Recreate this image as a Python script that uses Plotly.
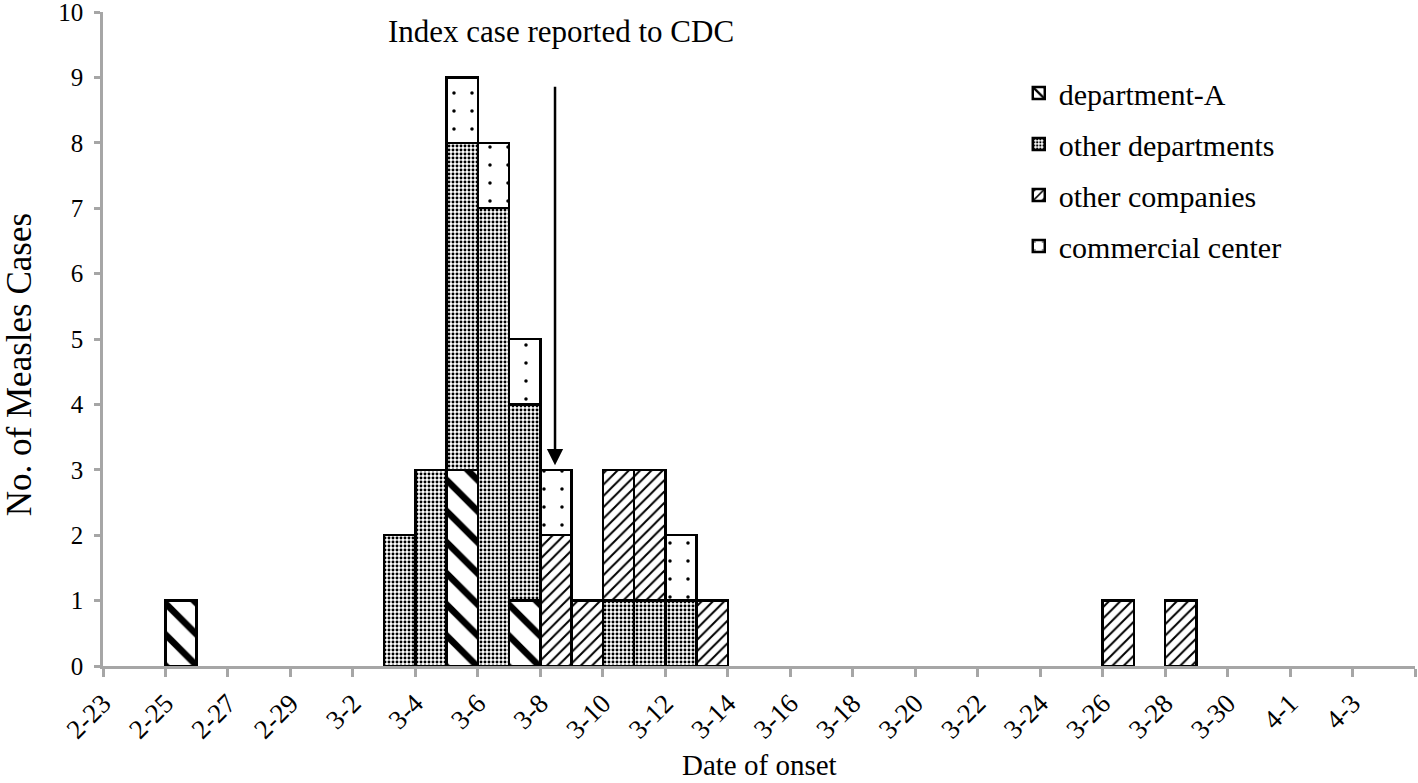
import pandas as pd
import plotly.graph_objects as go

# ---- data ----
onset_dates = ["2-25", "3-3", "3-4", "3-5", "3-6", "3-7", "3-8", "3-9",
               "3-10", "3-11", "3-12", "3-13", "3-26", "3-28"]
department_a = [1, 0, 0, 3, 0, 1, 0, 0, 0, 0, 0, 0, 0, 0]
other_departments = [0, 2, 3, 5, 7, 3, 0, 0, 1, 1, 1, 0, 0, 0]
other_companies = [0, 0, 0, 0, 0, 0, 2, 1, 2, 2, 0, 1, 1, 1]
commercial_center = [0, 0, 0, 1, 1, 1, 1, 0, 0, 0, 1, 0, 0, 0]

tick_labels = ["2-23", "2-25", "2-27", "2-29", "3-2", "3-4", "3-6", "3-8",
               "3-10", "3-12", "3-14", "3-16", "3-18", "3-20", "3-22",
               "3-24", "3-26", "3-28", "3-30", "4-1", "4-3", ""]

YEAR = 2016
start = pd.Timestamp(YEAR, 2, 23)


def day_index(s):
    m, d = s.split("-")
    return (pd.Timestamp(YEAR, int(m), int(d)) - start).days


x_pos = [day_index(s) + 0.5 for s in onset_dates]
tick_vals = [2 * i for i in range(len(tick_labels))]

FONT = "Liberation Serif, Times New Roman, serif"
AXIS_GRAY = "#a6a6a6"


def nz(vals):
    return [v if v else None for v in vals]


series = [
    ("department-A", department_a, dict(shape="\\", size=22, solidity=0.3)),
    ("other departments", other_departments, dict(shape=".", size=4, solidity=0.42)),
    ("other companies", other_companies, dict(shape="/", size=8, solidity=0.25)),
    ("commercial center", commercial_center, dict(shape=".", size=18, solidity=0.03)),
]

fig = go.Figure()
for i, (name, vals, pat) in enumerate(series):
    fig.add_trace(go.Bar(
        x=x_pos, y=nz(vals), width=1, name=name, legendgroup=f"g{i}",
        marker=dict(color="white",
                    line=dict(color="black", width=2.5),
                    pattern=dict(fgcolor="black", bgcolor="white",
                                 fgopacity=1, fillmode="replace", **pat)),
    ))

fig.update_layout(
    barmode="stack",
    width=1418, height=783,
    margin=dict(l=103, r=3, t=12, b=117, autoexpand=False),
    paper_bgcolor="white", plot_bgcolor="white",
    font=dict(family=FONT, size=24, color="black"),
    showlegend=True,
    legend=dict(x=0.698, y=0.916, xanchor="left", yanchor="top",
                bgcolor="rgba(0,0,0,0)", font=dict(size=30, family=FONT),
                tracegroupgap=9, itemwidth=30),
    xaxis=dict(range=[0, 42], tickmode="array", tickvals=tick_vals,
               ticktext=tick_labels, tickangle=-45, showgrid=False,
               showline=True, linecolor=AXIS_GRAY, linewidth=2.5,
               ticks="outside", tickcolor=AXIS_GRAY, ticklen=8, tickwidth=2.5,
               zeroline=False, automargin=False,
               tickfont=dict(size=27, family=FONT)),
    yaxis=dict(range=[0, 10], tickmode="linear", dtick=1, showgrid=False,
               showline=True, linecolor=AXIS_GRAY, linewidth=2.5,
               ticks="outside", tickcolor=AXIS_GRAY, ticklen=6, tickwidth=2.5,
               zeroline=False, automargin=False, ticklabelstandoff=6,
               ticklabeloverflow="allow",
               tickfont=dict(size=25, family=FONT)),
)

# axis titles
fig.add_annotation(text="Date of onset", xref="paper", yref="paper", x=0.5, y=-0.179,
                   xanchor="center", yanchor="bottom", showarrow=False,
                   font=dict(size=29, family=FONT))
fig.add_annotation(text="No. of Measles Cases", xref="paper", yref="paper", x=-0.064, y=0.46,
                   xanchor="center", yanchor="middle", showarrow=False, textangle=-90,
                   font=dict(size=35, family=FONT))

# arrow marking the date the index case was reported
arrow_x = day_index("3-8") + 0.47
fig.add_annotation(x=arrow_x, y=3.07, ax=arrow_x, ay=8.88, xref="x", yref="y",
                   axref="x", ayref="y", text="", showarrow=True,
                   arrowhead=2, arrowsize=1.3, arrowwidth=2.5, arrowcolor="black")
fig.add_annotation(x=arrow_x + 0.2, y=9.7, xref="x", yref="y", text="Index case reported to CDC",
                   showarrow=False, font=dict(size=31, family=FONT))

# remove the page's default body margin so the figure fills the window exactly
fig.write_html("out.html", config={"displayModeBar": False},
               post_script="document.body.style.margin='0px';")
